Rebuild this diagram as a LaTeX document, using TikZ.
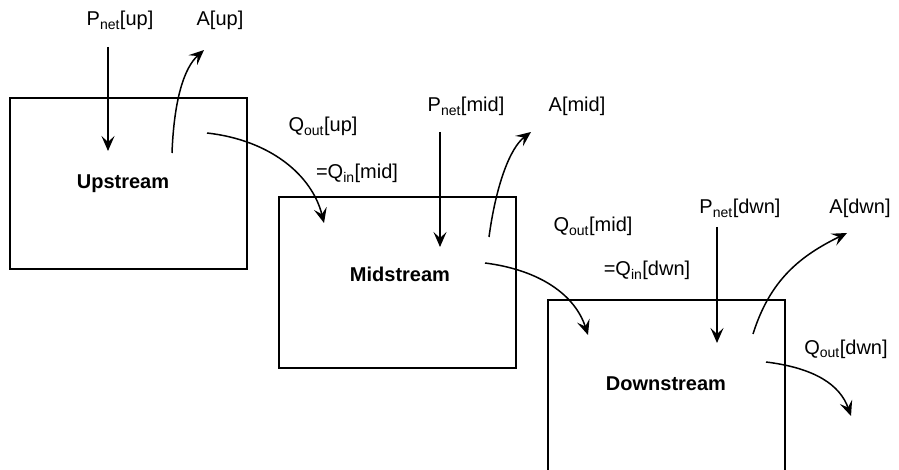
\documentclass[tikz,border=0pt]{standalone}
\usepackage{fontspec}
\setmainfont{Liberation Sans}
\usetikzlibrary{arrows.meta}
\begin{document}
\begin{tikzpicture}[x=1pt,y=-1pt,
  lbl/.style={inner sep=0pt,anchor=base,font=\fontsize{20}{24}\selectfont},
  title/.style={inner sep=0pt,anchor=base,font=\fontsize{20}{24}\selectfont\bfseries},
  boxnode/.style={draw,line width=1.2pt,minimum width=237pt,minimum height=171pt,inner sep=0pt},
  flow/.style={line width=1.5pt,-{Stealth[length=15pt,width=13pt,inset=6pt]}}]
\useasboundingbox (0,0) rectangle (899,470);
% boxes
\node[boxnode] (bup) at (128.5,183.5) {};
\node[boxnode] (bmid) at (397.5,282.5) {};
\node[boxnode] (bdwn) at (666.5,385.5) {};
% titles
\node[title] (tup) at (123,189) {Upstream};
\node[title] (tmid) at (400,281) {Midstream};
\node[title] (tdwn) at (666,390) {Downstream};
% labels
\node[lbl] (pup) at (120,26) {P\textsubscript{net}[up]};
\node[lbl] (aup) at (220,26) {A[up]};
\node[lbl] (qup) at (323,132) {Q\textsubscript{out}[up]};
\node[lbl] (qinmid) at (357,179) {=Q\textsubscript{in}[mid]};
\node[lbl] (pmid) at (466,112) {P\textsubscript{net}[mid]};
\node[lbl] (amid) at (577,112) {A[mid]};
\node[lbl] (qmid) at (593,232) {Q\textsubscript{out}[mid]};
\node[lbl] (qindwn) at (647,276) {=Q\textsubscript{in}[dwn]};
\node[lbl] (pdwn) at (740,214) {P\textsubscript{net}[dwn]};
\node[lbl] (adwn) at (860,214) {A[dwn]};
\node[lbl] (qdwn) at (846,354) {Q\textsubscript{out}[dwn]};
% endpoints
\coordinate (pup1) at (108,47);   \coordinate (pup2) at (108,151);
\coordinate (aup1) at (172,153);  \coordinate (aup2) at (204,50);
\coordinate (qup1) at (207,133);  \coordinate (qup2) at (324,223);
\coordinate (pmid1) at (440,132); \coordinate (pmid2) at (440,247);
\coordinate (amid1) at (489,237); \coordinate (amid2) at (531,132);
\coordinate (qmid1) at (485,263); \coordinate (qmid2) at (588,335);
\coordinate (pdwn1) at (717,227); \coordinate (pdwn2) at (717,343);
\coordinate (adwn1) at (753,334); \coordinate (adwn2) at (847,233);
\coordinate (qdwn1) at (766,362); \coordinate (qdwn2) at (851,416);
% arrows
\draw[flow] (pup1) -- (pup2);
\draw[flow] (aup1) .. controls (174,100) and (184,68) .. (aup2);
\draw[flow] (qup1) .. controls (270,140) and (312,175) .. (qup2);
\draw[flow] (pmid1) -- (pmid2);
\draw[flow] (amid1) .. controls (496,185) and (510,148) .. (amid2);
\draw[flow] (qmid1) .. controls (540,270) and (575,295) .. (qmid2);
\draw[flow] (pdwn1) -- (pdwn2);
\draw[flow] (adwn1) .. controls (770,280) and (800,256) .. (adwn2);
\draw[flow] (qdwn1) .. controls (815,368) and (840,385) .. (qdwn2);
\end{tikzpicture}
\end{document}
